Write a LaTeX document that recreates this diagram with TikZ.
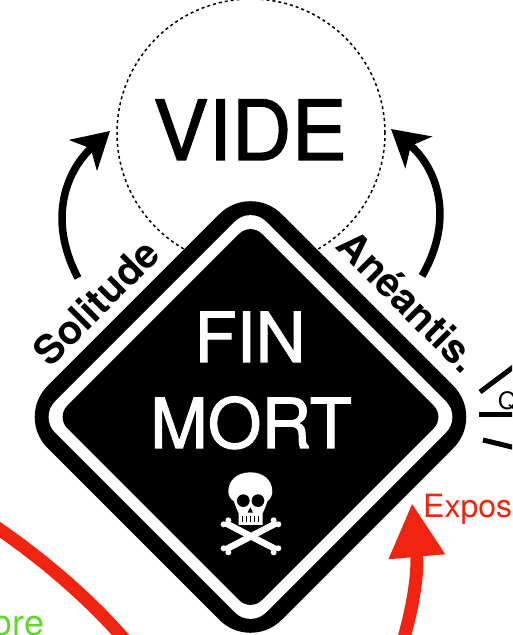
\documentclass[tikz,border=0pt]{standalone}
\usepackage{fontspec}
\setmainfont{TeX Gyre Heros}
\newfontfamily\appuye[FakeBold=1.5]{TeX Gyre Heros}
\usetikzlibrary{shapes.geometric,arrows.meta}
\definecolor{rouge}{HTML}{F02410}
\definecolor{vert}{HTML}{62D82E}
\tikzset{losange/.style = {diamond, minimum size = #1, inner sep = 0pt, outer sep = 0pt, draw = none},
         etiquette/.style = {font = \bfseries\fontsize{40}{42}\selectfont, inner sep = 0pt},
         grand/.style = {font = \appuye\fontsize{69}{71}\selectfont, anchor = base, inner sep = 0pt},
         fleche/.style = {line width = 7.5pt, -{Stealth[length = 36pt, width = 41pt, inset = 10pt]}},
         fleche rouge/.style = {line width = 13pt, rouge, -{Triangle[length = 54pt, width = 53pt]}},
         rayon/.style = {line width = 5pt},
         legende/.style = {font = \fontsize{#1}{#1}\selectfont, inner sep = 0pt},
         os/.style = {white, line width = 6.5pt}
        }

\begin{document}
\begin{tikzpicture}[x = 1pt, y = 1pt]
  \useasboundingbox (0,0) rectangle (512,635);
  \clip (0,0) rectangle (512,635);
  % le vide
  \node[circle, draw, dash pattern = on 3pt off 3pt, line width = 1.5pt, minimum size = 268pt, inner sep = 0pt] (vide) at (251,502) {};
  \node[anchor = base, inner sep = 0pt, font = \appuye\fontsize{83}{85}\selectfont] (motvide) at (250,475) {VIDE};
  % le losange
  \node[losange = 468pt, fill = black, rounded corners = 44pt] (fin) at (250.5,218) {};
  \node[losange = 422pt, fill = white, rounded corners = 22pt] (anneau) at (250.5,218) {};
  \node[losange = 389pt, fill = black, rounded corners = 16pt] (coeur) at (250.5,218) {};
  \node[grand, white] (motfin) at (250,273) {FIN};
  \node[grand, white] (motmort) at (251,187) {MORT};
  % le crane
  \begin{scope}[shift = {(190,175)}, x = 0.3333pt, y = -0.3333pt]
    \fill[white] (181,37) .. controls (140,37) and (115,62) .. (115,95)
      .. controls (115,108) and (122,118) .. (132,124) .. controls (136,140) and (142,150) .. (146,160)
      -- (146,195) -- (218,195) -- (218,160)
      .. controls (222,150) and (228,140) .. (232,124) .. controls (240,118) and (247,108) .. (247,95)
      .. controls (247,62) and (222,37) .. (181,37) -- cycle;
    \fill[black] (160,122) circle (19) (204,122) circle (19);
    \fill[black] (181,142) -- (173,158) -- (189,158) -- cycle;
    \foreach \dent in {158,170,182,194,206}
      \draw[black, line width = 1pt] (\dent,168) -- (\dent,186);
    \draw[os] (108,190) -- (258,268);
    \draw[os] (258,190) -- (108,268);
    \fill[white] (101,193) circle (9) (115,181) circle (9) (251,181) circle (9) (265,193) circle (9)
                 (101,265) circle (9) (115,277) circle (9) (251,277) circle (9) (265,265) circle (9);
  \end{scope}
  % les etiquettes
  \node[etiquette, rotate = 45] (solitude) at (96,333) {Solitude};
  \node[etiquette, rotate = -45] (aneantis) at (409,334) {Anéantis.};
  \coordinate (soldepart) at (78,357);
  \coordinate (solarrivee) at (110,504);
  \coordinate (anedepart) at (422,359);
  \coordinate (anearrivee) at (391,506);
  \draw[fleche] (soldepart) .. controls (46,418) and (68,466) .. (solarrivee);
  \draw[fleche] (anedepart) .. controls (456,418) and (436,468) .. (anearrivee);
  % les rayons
  \coordinate (r1a) at (480,243);
  \coordinate (r1b) at (516,270);
  \coordinate (r2a) at (479,220);
  \coordinate (r2b) at (516,220);
  \coordinate (r3a) at (483,195);
  \coordinate (r3b) at (516,187);
  \draw[rayon] (r1a) -- (r1b);
  \draw[rayon] (r2a) -- (r2b);
  \draw[rayon] (r3a) -- (r3b);
  \node[legende = 24, anchor = base west] (quoi) at (498,225) {Q};
  % en rouge et en vert
  \node[legende = 32, rouge, anchor = base west] (expos) at (423,117) {Expos};
  \node[legende = 36, vert, anchor = base east] (ore) at (44.5,-1) {ore};
  \coordinate (rdepart) at (402,-10);
  \coordinate (rarrivee) at (412,132);
  \coordinate (gdepart) at (-10,112);
  \coordinate (garrivee) at (125,-5);
  \draw[fleche rouge] (rdepart) .. controls (415,35) and (418,65) .. (rarrivee);
  \draw[line width = 13pt, rouge] (gdepart) .. controls (45,75) and (90,35) .. (garrivee);
\end{tikzpicture}
\end{document}
